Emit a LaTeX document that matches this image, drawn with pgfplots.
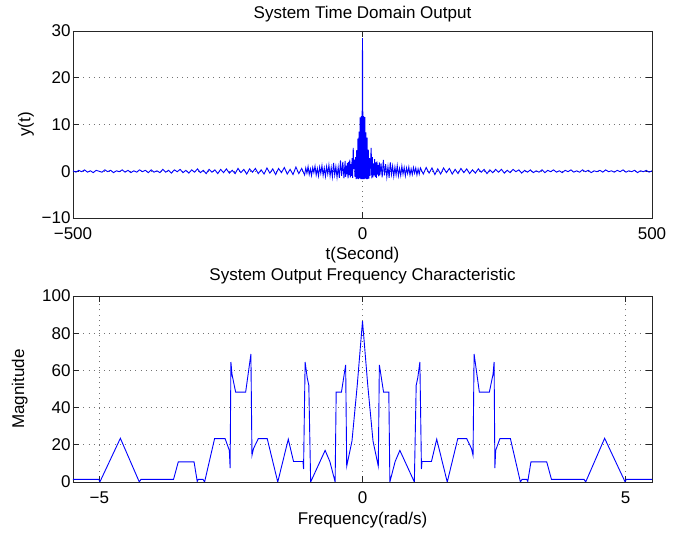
\documentclass[border=0pt]{standalone}
\usepackage{fontspec}
\setmainfont{Liberation Sans}
\usepackage{pgfplots}
\pgfplotsset{compat=1.18}

% time domain output y(t)
\pgfplotstableread{
t y
-500 0.1
-495 -0.2
-490 0.2
-485 -0.1
-480 0.3
-475 -0.2
-470 0.1
-465 -0.3
-460 0.2
-455 0.0
-450 -0.2
-445 0.3
-440 -0.1
-435 0.2
-430 -0.3
-425 0.1
-420 -0.1
-415 0.3
-410 -0.2
-405 0.2
-400 -0.3
-395 0.1
-390 -0.2
-385 0.3
-380 -0.1
-375 0.2
-370 -0.3
-365 0.3
-360 -0.2
-355 0.1
-350 -0.3
-345 0.4
-340 -0.2
-335 0.2
-330 -0.4
-325 0.3
-320 -0.1
-315 0.4
-310 -0.3
-305 0.2
-300 -0.4
-295 0.3
-290 -0.2
-285 0.5
-280 -0.3
-275 0.2
-270 -0.5
-265 0.4
-260 -0.2
-255 0.3
-250 -0.5
-245 0.4
-240 -0.3
-235 0.5
-230 -0.4
-225 0.2
-220 -0.5
-215 0.6
-210 -0.3
-205 0.4
-200 -0.6
-195 0.5
-190 -0.2
-185 0.6
-180 -0.5
-175 0.3
-170 -0.6
-165 0.7
-160 -0.4
-155 0.5
-150 -0.7
-145 0.6
-140 -0.3
-135 0.8
-130 -0.6
-125 0.4
-120 -0.7
-115 0.9
-110 -0.5
-105 0.6
-100 -0.8
-98 0.7
-96 -0.4
-94 1.0
-92 -0.7
-90 0.5
-88 -0.9
-86 0.8
-84 -0.3
-82 1.1
-80 -0.8
-78 0.6
-76 -1.0
-74 0.9
-72 -0.5
-70 1.2
-68 -0.9
-66 0.7
-64 -1.1
-62 1.0
-60 -0.6
-58 1.3
-56 -1.0
-54 0.8
-52 -1.2
-50 1.8
-48 -0.8
-46 1.0
-44 -1.3
-42 0.9
-40 -1.4
-38 2.3
-36 -1.0
-34 2.0
-32 -1.5
-30 2.2
-29 -1.2
-28 1.2
-27 -0.6
-26 1.8
-25 -1.5
-24 2.0
-23 -0.8
-22 2.5
-21 -1.3
-20 1.5
-19 -1.0
-18 2.8
-17 -1.4
-16 5.0
-15 0.5
-14 2.5
-13 -1.2
-12 3.0
-11 -1.7
-10 4.5
-9 -1.6
-8 7.0
-7 -1.7
-6 8.5
-5 -1.5
-4 11.5
-3 -1.7
-2 11.8
-1 -1.7
0 28.5
1 -1.7
2 11.8
3 -1.7
4 11.6
5 -1.6
6 8.3
7 -1.7
8 7.2
9 -1.7
10 4.6
11 -1.6
12 2.8
13 -1.0
14 2.3
15 5.0
16 -1.5
17 3.0
18 -1.3
19 1.7
20 -0.9
21 2.6
22 -1.2
23 1.9
24 -1.4
25 2.1
26 -0.7
27 1.3
28 -1.1
29 1.9
30 -0.9
32 1.7
34 -1.3
36 2.4
38 -0.9
40 1.5
42 -1.2
44 1.0
46 -1.4
48 1.9
50 -0.7
52 1.1
54 -1.1
56 0.9
58 -0.8
60 1.2
62 -1.0
64 0.6
66 -0.9
68 1.1
70 -0.6
72 0.8
74 -1.0
76 0.7
78 -0.5
80 0.9
82 -0.8
84 0.5
86 -0.7
88 0.8
90 -0.4
92 0.7
94 -0.8
96 0.5
98 -0.6
100 0.7
105 -0.6
110 0.8
115 -0.4
120 0.7
125 -0.7
130 0.5
135 -0.6
140 0.7
145 -0.3
150 0.6
155 -0.6
160 0.4
165 -0.5
170 0.6
175 -0.3
180 0.5
185 -0.5
190 0.3
195 -0.4
200 0.5
205 -0.2
210 0.4
215 -0.5
220 0.3
225 -0.3
230 0.4
235 -0.2
240 0.4
245 -0.4
250 0.2
255 -0.3
260 0.4
265 -0.1
270 0.3
275 -0.4
280 0.2
285 -0.2
290 0.3
295 -0.3
300 0.1
305 -0.2
310 0.3
315 -0.3
320 0.2
325 -0.1
330 0.3
335 -0.2
340 0.1
345 -0.3
350 0.2
355 -0.1
360 0.3
365 -0.2
370 0.1
375 -0.2
380 0.3
385 -0.1
390 0.2
395 -0.3
400 0.1
405 -0.1
410 0.2
415 -0.2
420 0.3
425 -0.1
430 0.1
435 -0.2
440 0.2
445 -0.1
450 0.3
455 -0.2
460 0.1
465 -0.1
470 0.2
475 -0.3
480 0.1
485 -0.1
490 0.2
495 -0.2
500 0.1
}\timedata

% output magnitude spectrum
\pgfplotstableread{
w m
-5.5 1.4
-5.01 1.4
-4.99 0
-4.6 23.5
-4.24 0
-4.21 1.4
-3.59 1.4
-3.5 10.8
-3.2 10.8
-3.14 0.3
-3.12 1.4
-3.03 1.4
-3.0 0
-2.81 23.3
-2.61 23.3
-2.53 17
-2.515 7.5
-2.50 64.5
-2.48 58
-2.41 48.3
-2.22 48.3
-2.12 68.8
-2.10 14.3
-2.07 18
-1.98 23.3
-1.81 23.3
-1.61 0
-1.41 23
-1.31 11
-1.13 11
-1.12 7
-1.09 64.5
-1.05 56
-1.02 52
-0.985 0
-0.71 17
-0.62 11
-0.52 0
-0.50 48.3
-0.40 48.3
-0.32 63
-0.30 8.5
-0.20 22
-0.10 52
0 86.5
0.10 52
0.20 22
0.30 8.5
0.32 63
0.40 48.3
0.50 48.3
0.52 0
0.62 11
0.71 17
0.985 0
1.02 52
1.05 56
1.09 64.5
1.12 7
1.13 11
1.31 11
1.41 23
1.61 0
1.81 23.3
1.98 23.3
2.07 18
2.10 14.3
2.12 68.8
2.22 48.3
2.41 48.3
2.48 58
2.50 64.5
2.515 7.5
2.53 17
2.61 23.3
2.81 23.3
3.0 0
3.03 1.4
3.12 1.4
3.14 0.3
3.2 10.8
3.5 10.8
3.59 1.4
4.21 1.4
4.24 0
4.6 23.5
4.99 0
5.01 1.4
5.5 1.4
}\freqdata

\begin{document}
\begin{tikzpicture}
\useasboundingbox (-73pt,-54pt) rectangle (608pt,482pt);
\pgfplotsset{
  matstyle/.style={
    scale only axis,
    width=579pt,
    axis line style={black!85, line width=0.7pt},
    tick style={black!85, line width=0.7pt},
    tick align=inside,
    major tick length=6pt,
    grid=major,
    major grid style={dash pattern=on 0.9pt off 4.3pt, black!55, line width=0.7pt},
    /pgf/number format/assume math mode=true,
    tick label style={font=\fontsize{17}{19}\selectfont},
    label style={font=\fontsize{17}{19}\selectfont},
    title style={font=\fontsize{17}{19}\selectfont, at={(axis description cs:0.5,1)}, anchor=base},
    xticklabel style={anchor=base, yshift=-22pt},
    yticklabel style={xshift=1pt},
  },
}
\begin{axis}[matstyle,
  at={(0pt,264pt)}, anchor=south west,
  height=187pt,
  xmin=-500, xmax=500, ymin=-10, ymax=30,
  xtick={-500,0,500}, xticklabels={−500,0,500},
  ytick={-10,0,10,20,30}, yticklabels={−10,0,10,20,30},
  title={System Time Domain Output},
  title style={yshift=6.5pt},
  xlabel={t(Second)},
  xlabel style={at={(axis description cs:0.5,0)}, anchor=base, yshift=-42pt},
  ylabel={y(t)},
  ylabel style={at={(axis description cs:-0.081,0.5)}, anchor=center},
]
\addplot[blue, line width=0.9pt] table[x=t, y=y] {\timedata};
\end{axis}

\begin{axis}[matstyle,
  at={(0pt,0pt)}, anchor=south west,
  height=186pt,
  xmin=-5.5, xmax=5.5, ymin=0, ymax=100,
  xtick={-5,0,5}, xticklabels={−5,0,5},
  ytick={0,20,40,60,80,100}, yticklabels={0,20,40,60,80,100},
  title={System Output Frequency Characteristic},
  title style={yshift=9pt},
  xlabel={Frequency(rad/s)},
  xlabel style={at={(axis description cs:0.5,0)}, anchor=base, yshift=-42pt},
  ylabel={Magnitude},
  ylabel style={at={(axis description cs:-0.092,0.5)}, anchor=center},
]
\addplot[blue, line width=0.9pt] table[x=w, y=m] {\freqdata};
\end{axis}
\end{tikzpicture}
\end{document}
